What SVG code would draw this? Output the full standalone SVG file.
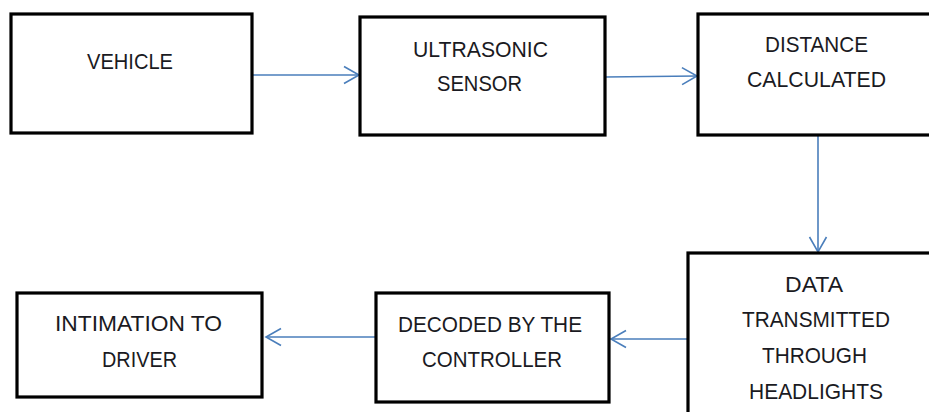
<svg xmlns="http://www.w3.org/2000/svg" width="929" height="412" viewBox="0 0 929 412">
<defs>
<marker id="arr" markerUnits="userSpaceOnUse" markerWidth="18" markerHeight="20" viewBox="0 0 18 20" refX="16" refY="10" orient="auto">
<path d="M1,1.5 L16,10 L1,18.5" fill="none" stroke="#4a7ebb" stroke-width="1.6"/>
</marker>
</defs>
<style>
.box{fill:#fff;stroke:#000;stroke-width:3.2}
.t{font-family:"Liberation Sans",Arial,sans-serif;font-size:22px;fill:#1a1a22}
.c{fill:none;stroke:#4a7ebb;stroke-width:1.6;marker-end:url(#arr)}
</style>
<rect width="929" height="412" fill="#fff"/>
<g id="connectors">
<path class="c" d="M252,75 H359"/>
<path class="c" d="M605,77 L697,76"/>
<path class="c" d="M818,135 V252"/>
<path class="c" d="M688,339 H611"/>
<path class="c" d="M376,337 H266"/>
</g>
<g id="vehicle">
<rect class="box" x="11" y="14" width="241" height="119"/>
<text class="t" x="87" y="69" textLength="86" lengthAdjust="spacingAndGlyphs">VEHICLE</text>
</g>
<g id="ultrasonic-sensor">
<rect class="box" x="360" y="17" width="245" height="118"/>
<text class="t" x="413" y="57" textLength="135" lengthAdjust="spacingAndGlyphs">ULTRASONIC</text>
<text class="t" x="437" y="91" textLength="85" lengthAdjust="spacingAndGlyphs">SENSOR</text>
</g>
<g id="distance-calculated">
<rect class="box" x="698" y="14" width="245" height="121"/>
<text class="t" x="765" y="52" textLength="103" lengthAdjust="spacingAndGlyphs">DISTANCE</text>
<text class="t" x="747" y="87" textLength="139" lengthAdjust="spacingAndGlyphs">CALCULATED</text>
</g>
<g id="data-transmitted">
<rect class="box" x="688" y="253" width="255" height="175"/>
<text class="t" x="785" y="292" textLength="58" lengthAdjust="spacingAndGlyphs">DATA</text>
<text class="t" x="742" y="327" textLength="148" lengthAdjust="spacingAndGlyphs">TRANSMITTED</text>
<text class="t" x="762" y="363" textLength="105" lengthAdjust="spacingAndGlyphs">THROUGH</text>
<text class="t" x="749" y="399" textLength="134" lengthAdjust="spacingAndGlyphs">HEADLIGHTS</text>
</g>
<g id="decoded">
<rect class="box" x="376" y="293" width="233" height="109"/>
<text class="t" x="398" y="332" textLength="184" lengthAdjust="spacingAndGlyphs">DECODED  BY THE</text>
<text class="t" x="422" y="367" textLength="140" lengthAdjust="spacingAndGlyphs">CONTROLLER</text>
</g>
<g id="intimation">
<rect class="box" x="17" y="293" width="245" height="104"/>
<text class="t" x="55" y="331" textLength="167" lengthAdjust="spacingAndGlyphs">INTIMATION  TO</text>
<text class="t" x="102" y="367" textLength="75" lengthAdjust="spacingAndGlyphs">DRIVER</text>
</g>
</svg>
